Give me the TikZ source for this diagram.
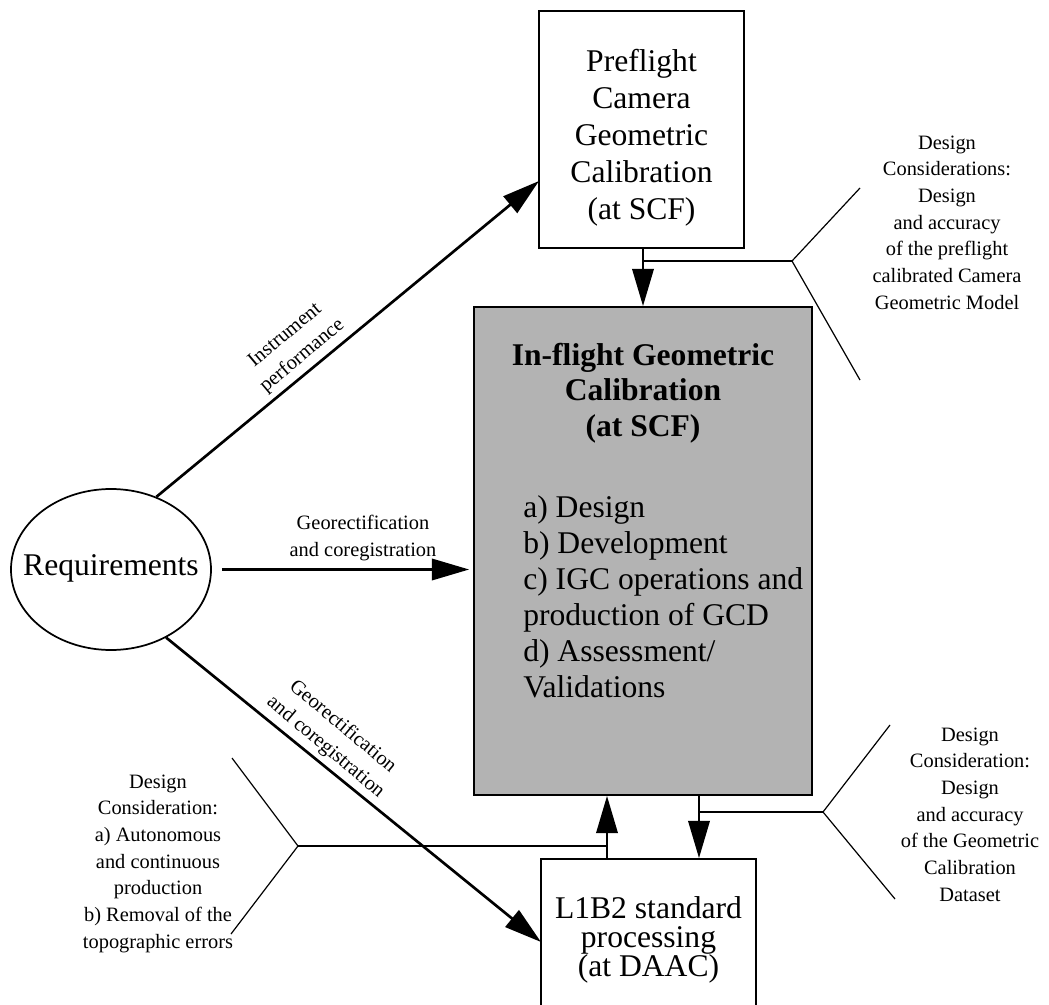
\documentclass[tikz,border=0pt]{standalone}
\usepackage{fontspec}
\setmainfont{Liberation Serif}
\usetikzlibrary{arrows.meta,shapes.geometric}
\definecolor{boxgray}{HTML}{B3B3B3}
\tikzset{
  bigtext/.style={font=\fontsize{23.7}{27.75}\selectfont, align=center, inner sep=0pt},
  smalltext/.style={font=\fontsize{15.3}{20}\selectfont, align=center, inner sep=0pt},
  box/.style={draw, line width=1.3pt, inner sep=0pt},
  conn/.style={line width=2pt},
  arr/.style={conn, -{Triangle[length=28pt,width=16pt]}},
  bracketline/.style={line width=0.9pt},
}
\begin{document}
\begin{tikzpicture}[x=0.75pt,y=-0.75pt]
\useasboundingbox (0,0) rectangle (1049,1005);
\clip (0,0) rectangle (1049,1005);

% boxes
\node[box, minimum width=153.75pt, minimum height=177.75pt] (pre) at (641.5,129.5) {};
\node[bigtext] (pretext) at (641.5,137.5) {Preflight\\Camera\\Geometric\\Calibration\\(at SCF)};
\node[box, fill=boxgray, minimum width=253.5pt, minimum height=366pt] (igc) at (643,551) {};
\node[font=\bfseries\fontsize{23.7}{26.6}\selectfont, align=center, inner sep=0pt] (igchead) at (643,393)
  {In-flight Geometric\\Calibration\\(at SCF)};
\node[font=\fontsize{23.7}{27}\selectfont, align=left, anchor=west, inner sep=0pt] (igclist) at (523,596.5)
  {a) Design\\b) Development\\c) IGC operations and\\production of GCD\\d) Assessment/\\Validations};
\node[draw, ellipse, line width=1.3pt, minimum width=150pt, minimum height=120.75pt, inner sep=0pt] (req) at (111,569.5) {};
\node[bigtext] (reqtext) at (111,568) {Requirements};
\node[box, minimum width=161.25pt, minimum height=117pt] (l1b2) at (648.5,937) {};
\node[font=\fontsize{23.7}{22}\selectfont, align=center, inner sep=0pt] (l1b2text) at (648.5,940)
  {L1B2 standard\\processing\\(at DAAC)};

% coordinates
\coordinate (preIn) at (539,181);
\coordinate (l1b2In) at (541,942);
\coordinate (bA) at (792,261);
\coordinate (bA1) at (860,188);
\coordinate (bA2) at (860,380);
\coordinate (jB) at (607,846);
\coordinate (bB) at (298,846);
\coordinate (bB1) at (232,758);
\coordinate (bB2) at (231,934);
\coordinate (jC) at (699,812);
\coordinate (bC) at (823,812);
\coordinate (bC1) at (890,725);
\coordinate (bC2) at (895,899);

% connectors
\draw[arr] (req.58) -- (preIn);
\draw[arr, shorten <=7.5pt, shorten >=3pt] (req.east) -- (req.east -| igc.west);
\draw[arr] (req.-51) -- (l1b2In);
\draw[arr] (igc.north |- pre.south) -- (igc.north);
\draw[conn] (bA -| igc.north) -- (bA);
\draw[bracketline] (bA1) -- (bA) -- (bA2);
\draw[arr] (jB |- l1b2.north) -- (jB |- igc.south);
\draw[conn] (jB) -- (bB);
\draw[bracketline] (bB1) -- (bB) -- (bB2);
\draw[arr] (jC |- igc.south) -- (jC |- l1b2.north);
\draw[conn] (jC) -- (bC);
\draw[bracketline] (bC1) -- (bC) -- (bC2);

% labels
\node[smalltext] (lblA) at (947,222.5) {Design\\Considerations:\\Design\\and accuracy\\of the preflight\\calibrated Camera\\Geometric Model};
\node[smalltext] (lblB) at (158,863.5) {Design\\Consideration:\\a) Autonomous\\and continuous\\production\\b) Removal of the\\topographic errors};
\node[smalltext] (lblC) at (970,814.5) {Design\\Consideration:\\Design\\and accuracy\\of the Geometric\\Calibration\\Dataset};
\node[smalltext, rotate=40] (lblInst) at (294,346) {Instrument\\performance};
\node[smalltext] (lblGeo1) at (363,538) {Georectification\\and coregistration};
\node[smalltext, rotate=-40] (lblGeo2) at (334,737) {Georectification\\and coregistration};
\end{tikzpicture}
\end{document}
